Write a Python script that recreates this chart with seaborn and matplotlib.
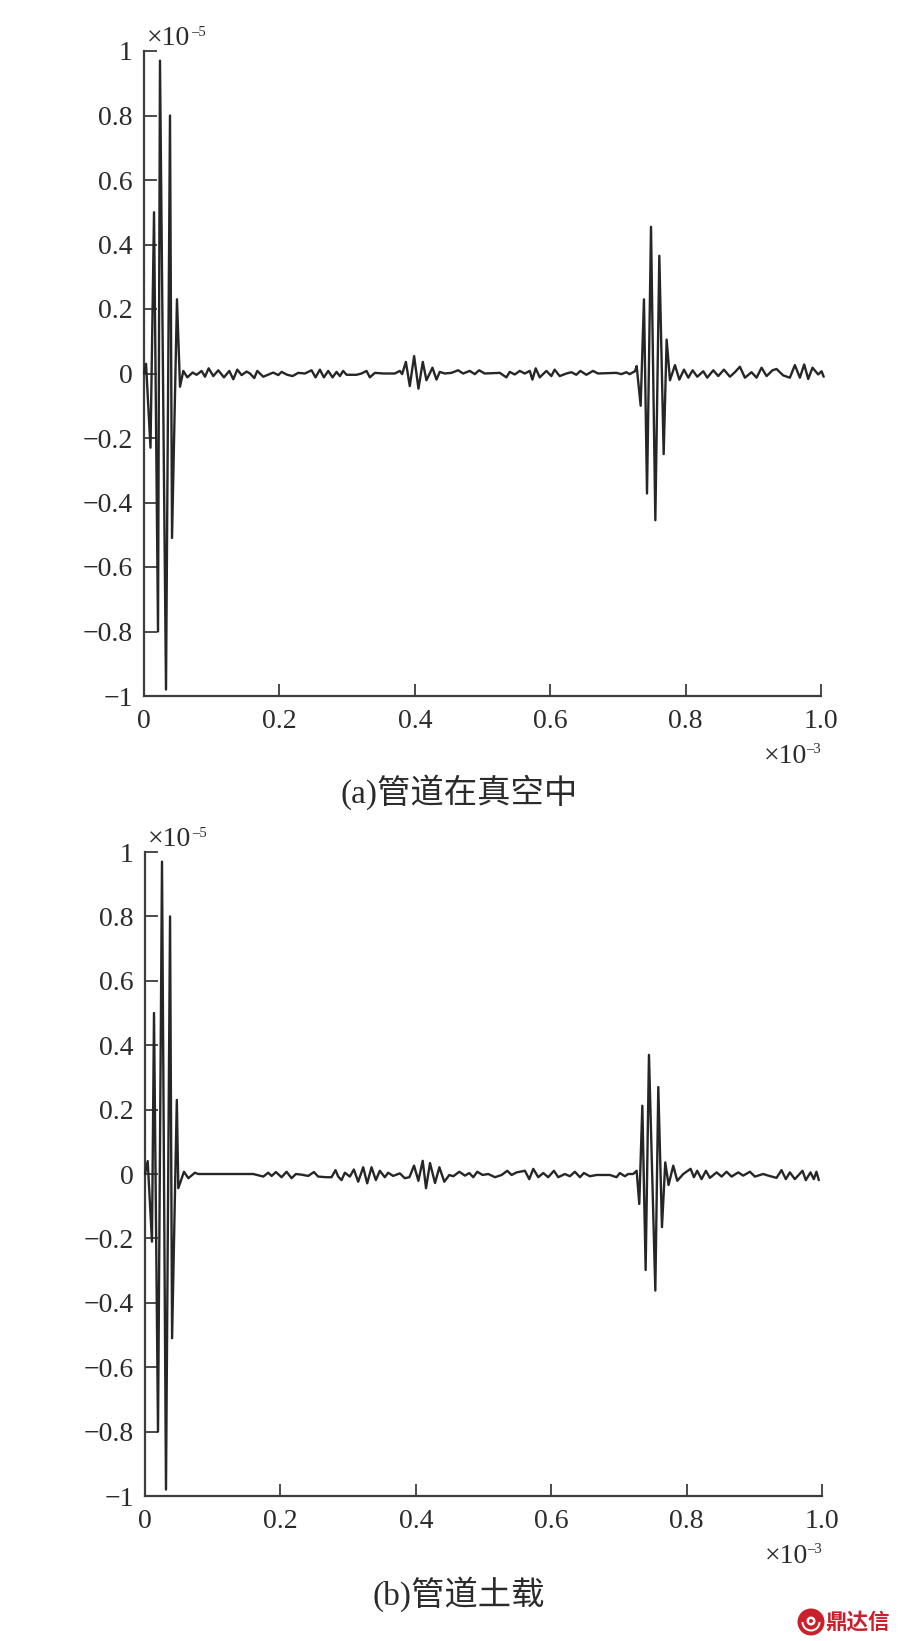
"""Pipe signal traces, vacuum vs soil load, redrawn with seaborn."""

import matplotlib

matplotlib.use("Agg")
import matplotlib.pyplot as plt
import pandas as pd
import seaborn as sns
from matplotlib.patches import Circle, Wedge

# time in units of 1e-3, amplitude in units of 1e-5 (local extrema)
time_a = [
    0.0, 0.003, 0.0096, 0.0148, 0.0207, 0.0236, 0.0325, 0.0384, 0.0414, 0.0487, 0.0532,
    0.0581, 0.0640, 0.0718, 0.0777, 0.0851, 0.0901, 0.0955, 0.1024, 0.1097, 0.1181,
    0.1260, 0.1319, 0.1378, 0.1442, 0.1516, 0.1565, 0.1629, 0.1673, 0.1762, 0.1909,
    0.1983, 0.2032, 0.2116, 0.2194, 0.2278, 0.2377, 0.2475, 0.2534, 0.2598, 0.2657,
    0.2721, 0.2785, 0.2844, 0.2893, 0.2942, 0.2992, 0.3139, 0.3213, 0.3287, 0.3336,
    0.3410, 0.3533, 0.3705, 0.3779, 0.3813, 0.3868, 0.3926, 0.3990, 0.4054, 0.4118,
    0.4172, 0.4261, 0.4320, 0.4369, 0.4443, 0.4541, 0.4640, 0.4713, 0.4812, 0.4886,
    0.4950, 0.5033, 0.5255, 0.5353, 0.5402, 0.5476, 0.5550, 0.5624, 0.5698, 0.5737,
    0.5786, 0.5845, 0.5944, 0.6017, 0.6066, 0.6140, 0.6239, 0.6313, 0.6386, 0.6445,
    0.6534, 0.6632, 0.6706, 0.6977, 0.7051, 0.7124, 0.7173, 0.7252, 0.7277, 0.7336,
    0.7385, 0.7430, 0.7489, 0.7553, 0.7612, 0.7676, 0.7720, 0.7769, 0.7843, 0.7907,
    0.7976, 0.8040, 0.8104, 0.8172, 0.8261, 0.8320, 0.8409, 0.8482, 0.8566, 0.8655,
    0.8728, 0.8802, 0.8876, 0.8974, 0.9048, 0.9122, 0.9196, 0.9284, 0.9343, 0.9442,
    0.9540, 0.9614, 0.9688, 0.9752, 0.9811, 0.9875, 0.9958, 1.0008, 1.004,
]
signal_a = [
    0.0, 0.03, -0.23, 0.50, -0.80, 0.97, -0.98, 0.80, -0.51, 0.23, -0.041,
    0.008, -0.012, 0.003, -0.004, 0.008, -0.010, 0.016, -0.008, 0.010, -0.012,
    0.008, -0.018, 0.012, -0.005, 0.006, 0.0, -0.014, 0.008, -0.010, 0.003,
    -0.005, 0.005, -0.004, -0.008, 0.002, 0.0, 0.010, -0.012, 0.012, -0.012,
    0.008, -0.012, 0.005, -0.008, 0.008, -0.004, -0.004, 0.0, 0.008, -0.012,
    0.002, 0.0, 0.0, 0.008, -0.002, 0.036, -0.039, 0.054, -0.047, 0.036,
    -0.021, 0.018, -0.019, 0.005, 0.0, 0.002, 0.010, 0.0, 0.008, -0.002,
    0.010, 0.0, 0.002, -0.012, 0.005, -0.003, 0.008, 0.0, 0.008, -0.019,
    0.016, -0.012, 0.008, -0.008, 0.012, -0.008, 0.0, 0.004, -0.004, 0.008,
    -0.004, 0.008, 0.0, 0.002, -0.002, 0.004, -0.002, 0.007, 0.023, -0.10,
    0.23, -0.372, 0.455, -0.455, 0.365, -0.25, 0.105, -0.021, 0.026, -0.019,
    0.012, -0.013, 0.010, -0.010, 0.007, -0.013, 0.010, -0.008, 0.012, -0.010,
    0.004, 0.021, -0.013, 0.004, -0.013, 0.018, -0.008, 0.010, 0.014, -0.006,
    -0.013, 0.026, -0.013, 0.028, -0.017, 0.018, -0.003, 0.007, -0.010,
]

time_b = [
    0.0, 0.004, 0.0103, 0.0133, 0.0192, 0.0251, 0.031, 0.037, 0.040, 0.047, 0.0492,
    0.0576, 0.0640, 0.0738, 0.0787, 0.1599, 0.1747, 0.1820, 0.1870, 0.1934, 0.2017,
    0.2091, 0.2165, 0.2229, 0.2312, 0.2411, 0.2495, 0.2558, 0.2681, 0.2755, 0.2814,
    0.2854, 0.2903, 0.2952, 0.3026, 0.3085, 0.3149, 0.3223, 0.3282, 0.3346, 0.3410,
    0.3469, 0.3542, 0.3592, 0.3665, 0.3764, 0.3838, 0.3905, 0.3974, 0.4038, 0.4102,
    0.4151, 0.4210, 0.4284, 0.4348, 0.4421, 0.4495, 0.4554, 0.4643, 0.4726, 0.4790,
    0.4849, 0.4908, 0.4987, 0.5071, 0.5169, 0.5268, 0.5351, 0.5415, 0.5489, 0.5612,
    0.5676, 0.5735, 0.5809, 0.5883, 0.5956, 0.6040, 0.6104, 0.6202, 0.6276, 0.6350,
    0.6424, 0.6483, 0.6571, 0.6670, 0.6867, 0.6965, 0.7014, 0.7088, 0.7137, 0.7211,
    0.7262, 0.7301, 0.7346, 0.7395, 0.7444, 0.7538, 0.7582, 0.7636, 0.7685, 0.7734,
    0.7803, 0.7862, 0.7951, 0.8059, 0.8108, 0.8157, 0.8221, 0.8285, 0.8344, 0.8443,
    0.8517, 0.8590, 0.8664, 0.8763, 0.8836, 0.8935, 0.9009, 0.9132, 0.9206, 0.9328,
    0.9402, 0.9466, 0.9525, 0.9599, 0.9712, 0.9761, 0.9830, 0.9879, 0.9918, 0.9953,
]
signal_b = [
    0.0, 0.04, -0.21, 0.50, -0.80, 0.97, -0.98, 0.80, -0.51, 0.23, -0.044,
    0.007, -0.013, 0.004, 0.0, 0.0, -0.008, 0.004, -0.006, 0.006, -0.010,
    0.007, -0.013, 0.0, -0.002, -0.006, 0.006, -0.008, -0.010, -0.010, 0.012,
    -0.008, -0.019, 0.004, -0.008, 0.014, -0.024, 0.021, -0.029, 0.021, -0.019,
    0.010, -0.010, 0.004, -0.006, 0.002, -0.013, -0.010, 0.026, -0.021, 0.041,
    -0.044, 0.034, -0.028, 0.021, -0.024, -0.003, -0.007, 0.007, -0.005, 0.003,
    -0.010, 0.007, -0.003, 0.0, -0.010, -0.003, 0.010, -0.003, 0.005, 0.010,
    -0.016, 0.016, -0.010, 0.003, -0.010, 0.010, -0.010, 0.0, -0.007, 0.007,
    -0.010, 0.003, -0.007, -0.003, -0.003, -0.010, 0.003, -0.007, 0.0, 0.0,
    0.010, -0.093, 0.212, -0.298, 0.37, -0.362, 0.27, -0.165, 0.036, -0.034,
    0.026, -0.021, 0.0, 0.016, -0.010, 0.010, -0.016, 0.010, -0.012, 0.005,
    -0.008, 0.007, -0.008, 0.005, -0.005, 0.007, -0.008, 0.0, -0.005, -0.012,
    0.012, -0.016, 0.005, -0.016, 0.010, -0.019, 0.005, -0.016, 0.007, -0.019,
]

y_ticks = [-1, -0.8, -0.6, -0.4, -0.2, 0, 0.2, 0.4, 0.6, 0.8, 1]
y_tick_labels = ["−1", "−0.8", "−0.6", "−0.4", "−0.2", "0", "0.2", "0.4", "0.6", "0.8", "1"]
x_ticks = [0, 0.2, 0.4, 0.6, 0.8, 1.0]
x_tick_labels = ["0", "0.2", "0.4", "0.6", "0.8", "1.0"]
caption_a = "(a)管道在真空中"
caption_b = "(b)管道土载"
watermark = "鼎达信"

WIDTH, HEIGHT = 898, 1641
INK = "#262626"
AXIS = "#3d3d3d"
TEXT = "#2b2b2b"
RED = "#c9202c"
SERIF = ["Liberation Serif", "Noto Sans CJK SC"]


def multiplier(ax, anchor, power, dx, dy, ha):
    """The x10^n label: base and small exponent as two texts."""
    if ha == "left":
        base_dx, power_dx = dx, dx + 32
    else:
        base_dx, power_dx = dx - 10, dx - 10
    ax.annotate("×10", xy=anchor, xycoords="axes fraction", xytext=(base_dx, dy),
                textcoords="offset points", fontsize=20, color=TEXT, ha=ha, va="baseline")
    ax.annotate(power, xy=anchor, xycoords="axes fraction",
                xytext=(power_dx if ha == "left" else dx, dy + 7),
                textcoords="offset points", fontsize=10.5, color=TEXT, ha=ha, va="baseline")


def draw_panel(fig, box, time, signal, caption, caption_xy):
    """One trace with its ticks, multiplier labels and caption (box in pixels)."""
    left, top, right, bottom = box
    ax = fig.add_axes(
        [left / WIDTH, 1 - bottom / HEIGHT, (right - left) / WIDTH, (bottom - top) / HEIGHT]
    )
    frame = pd.DataFrame({"time": time, "signal": signal})
    sns.lineplot(
        data=frame, x="time", y="signal", ax=ax, color=INK, linewidth=1.7,
        estimator=None, clip_on=False, zorder=3, solid_joinstyle="round",
    )
    ax.set_xlim(0, 1)
    ax.set_ylim(-1, 1)
    ax.set_xlabel("")
    ax.set_ylabel("")
    ax.set_xticks(x_ticks, x_tick_labels)
    ax.set_yticks(y_ticks, y_tick_labels)
    ax.tick_params(axis="y", left=True, direction="in", length=9.5, width=1.3, color=AXIS,
                   pad=8, labelsize=20, labelcolor=TEXT)
    ax.tick_params(axis="x", bottom=True, direction="in", length=8.5, width=1.3, color=AXIS,
                   pad=9, labelsize=20, labelcolor=TEXT)
    sns.despine(ax=ax)
    for side in ("left", "bottom"):
        ax.spines[side].set_linewidth(1.6)
        ax.spines[side].set_color(AXIS)

    multiplier(ax, (0, 1), "–5", 2, 4, "left")
    multiplier(ax, (1, 0), "–3", 0, -48, "right")
    fig.text(caption_xy[0] / WIDTH, 1 - caption_xy[1] / HEIGHT, caption, family=SERIF,
             fontsize=24, color=TEXT, ha="center", va="center")
    return ax


def draw_watermark(fig):
    """Red round logo and the publisher name, bottom right."""
    trans = fig.dpi_scale_trans
    cx, cy = 8.11, (HEIGHT - 1622) / 100
    fig.add_artist(Circle((cx, cy), 0.135, transform=trans, facecolor=RED, edgecolor="none"))
    fig.add_artist(Wedge((cx, cy), 0.095, 180, 360, width=0.02, transform=trans,
                         facecolor="white", edgecolor="none"))
    fig.add_artist(Circle((cx, cy + 0.01), 0.045, transform=trans, facecolor="white",
                          edgecolor="none"))
    fig.add_artist(Circle((cx, cy + 0.01), 0.02, transform=trans, facecolor=RED,
                          edgecolor="none"))
    fig.text(858 / WIDTH, 1 - 1622 / HEIGHT, watermark, family="Noto Sans CJK SC",
             fontweight="bold", fontsize=15.5, color=RED, ha="center", va="center")


def main() -> None:
    sns.set_style("white")
    plt.rcParams["font.family"] = SERIF

    fig = plt.figure(figsize=(WIDTH / 100, HEIGHT / 100), dpi=100, facecolor="white")
    draw_panel(fig, (144, 51, 821, 696), time_a, signal_a, caption_a, (459, 792))
    draw_panel(fig, (145, 852, 822, 1496), time_b, signal_b, caption_b, (459, 1594))
    draw_watermark(fig)
    fig.savefig("out.png", dpi=100, facecolor="white")
    plt.close(fig)


if __name__ == "__main__":
    main()
